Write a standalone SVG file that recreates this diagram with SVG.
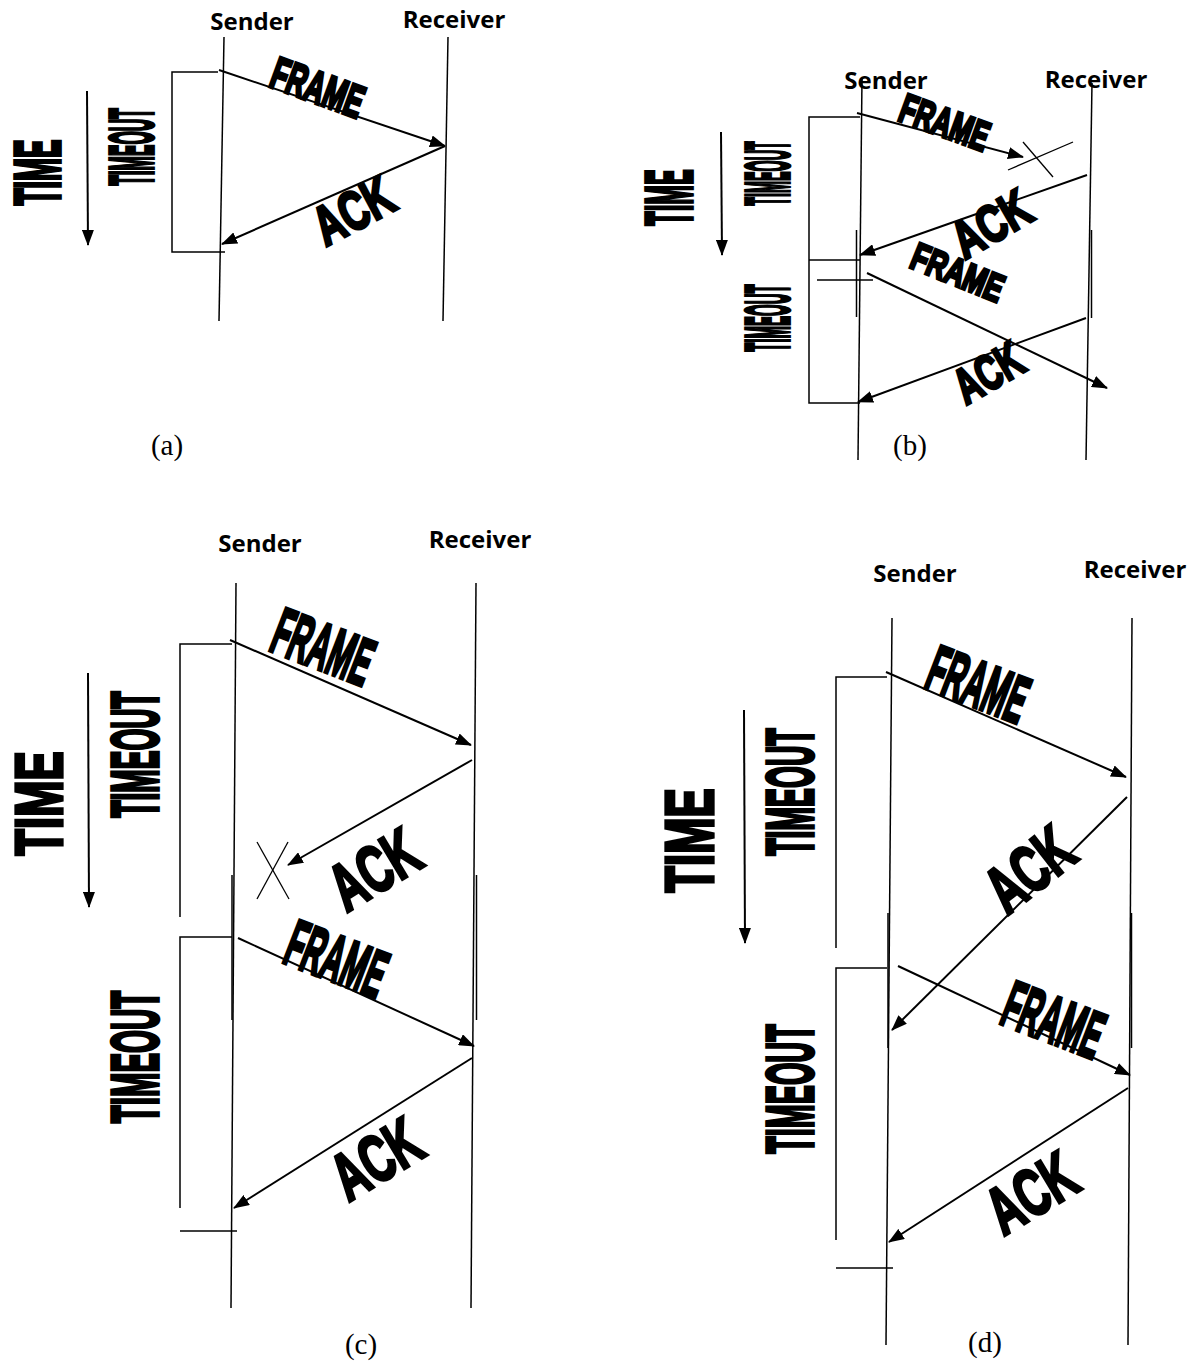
<svg xmlns="http://www.w3.org/2000/svg" width="1191" height="1365" viewBox="0 0 1191 1365">
<defs>
<marker id="ah" markerWidth="16" markerHeight="12" refX="15" refY="6" orient="auto" markerUnits="userSpaceOnUse"><path d="M0,0 L16,6 L0,12 z" fill="#000"/></marker>
</defs>
<style>
.ll{stroke:#000;stroke-width:1.5;fill:none}
.br{stroke:#000;stroke-width:1.5;fill:none}
.ar{stroke:#000;stroke-width:2;fill:none;marker-end:url(#ah)}
.th{stroke:#000;stroke-width:1.3;fill:none}
.hd{font-family:"Open Sans","Liberation Sans",sans-serif;font-weight:bold;font-size:24px;fill:#000;text-anchor:middle}
.cap{font-family:"Liberation Serif","Times New Roman",serif;font-size:29px;fill:#000;text-anchor:middle}
.big{font-family:"Liberation Sans",Arial,sans-serif;font-weight:bold;fill:#000;stroke:#000;stroke-width:2.8;stroke-linejoin:miter;vector-effect:non-scaling-stroke;text-anchor:middle}
</style>
<rect width="1191" height="1365" fill="#fff"/>

<!-- Panel (a) -->
<g id="panel-a">
<g id="a-sender"><text class="hd" x="252" y="30">Sender</text><line class="ll" x1="224" y1="37" x2="219" y2="321"/></g>
<g id="a-receiver"><text class="hd" x="454" y="28">Receiver</text><line class="ll" x1="448" y1="37" x2="443" y2="321"/></g>
<g id="a-timeout"><polyline class="br" points="218,72 172,72 172,252 225,252"/>
<text class="big" transform="translate(130.5 147) rotate(-90) scale(0.277 1)" y="22.25" font-size="62.2">TIMEOUT</text></g>
<g id="a-time"><text class="big" transform="translate(37 172.5) rotate(-90) scale(0.432 1)" y="23" font-size="64.2">TIME</text></g>
<text class="big" transform="translate(318 87) rotate(20) scale(0.592 1)" y="16.25" font-size="45.4">FRAME</text>
<text class="big" transform="translate(353 210) rotate(-28) scale(0.69 1)" y="19.75" font-size="55.2">ACK</text>
<text class="cap" x="167" y="455">(a)</text>
</g>

<!-- Panel (b) -->
<g id="panel-b">
<g id="b-sender"><text class="hd" x="886" y="89">Sender</text><line class="ll" x1="862" y1="78" x2="858" y2="460"/><line class="ll" x1="856.5" y1="230" x2="856.5" y2="317"/></g>
<g id="b-receiver"><text class="hd" x="1096" y="88">Receiver</text><line class="ll" x1="1092" y1="83" x2="1086" y2="460"/><line class="ll" x1="1091.5" y1="230" x2="1091.5" y2="318"/></g>
<g id="b-timeout"><polyline class="br" points="860,117 809,117 809,403 860,403"/><line class="br" x1="809" y1="260" x2="860" y2="260"/><line class="br" x1="817" y1="280" x2="873" y2="280"/>
<text class="big" transform="translate(766 173.5) rotate(-90) scale(0.226 1)" y="22.75" font-size="63.5">TIMEOUT</text>
<text class="big" transform="translate(766 318) rotate(-90) scale(0.236 1)" y="22.75" font-size="63.5">TIMEOUT</text></g>
<g id="b-time"><text class="big" transform="translate(668 197.5) rotate(-90) scale(0.357 1)" y="23.75" font-size="66.3">TIME</text></g>
<g id="b-lost"><line class="th" x1="1008" y1="170" x2="1073" y2="142"/><line class="th" x1="1023" y1="142" x2="1053" y2="177"/></g>
<text class="big" transform="translate(945 122) rotate(20) scale(0.631 1)" y="14.75" font-size="41.2">FRAME</text>
<text class="big" transform="translate(991 223) rotate(-30) scale(0.727 1)" y="18.75" font-size="52.4">ACK</text>
<text class="big" transform="translate(958 272) rotate(22) scale(0.707 1)" y="13.75" font-size="38.4">FRAME</text>
<text class="big" transform="translate(988 372) rotate(-30) scale(0.666 1)" y="17.75" font-size="49.6">ACK</text>
<text class="cap" x="910" y="455">(b)</text>
</g>

<!-- Panel (c) -->
<g id="panel-c">
<g id="c-sender"><text class="hd" x="260" y="552">Sender</text><line class="ll" x1="236" y1="583" x2="231" y2="1308"/><line class="ll" x1="232" y1="875" x2="232" y2="1020"/></g>
<g id="c-receiver"><text class="hd" x="480" y="548">Receiver</text><line class="ll" x1="476" y1="583" x2="471" y2="1308"/><line class="ll" x1="476.5" y1="875" x2="476.5" y2="1020"/></g>
<g id="c-timeout"><polyline class="br" points="232,644 180,644 180,917"/><polyline class="br" points="232,937 180,937 180,1208"/><line class="br" x1="180" y1="1231" x2="237" y2="1231"/>
<text class="big" transform="translate(134.5 754.5) rotate(-90) scale(0.424 1)" y="23.75" font-size="66.3">TIMEOUT</text>
<text class="big" transform="translate(134.5 1057) rotate(-90) scale(0.444 1)" y="23.75" font-size="66.3">TIMEOUT</text></g>
<g id="c-time"><text class="big" transform="translate(38 803.5) rotate(-90) scale(0.66 1)" y="23.75" font-size="66.3">TIME</text></g>
<g id="c-lost"><line class="th" x1="257" y1="842" x2="289" y2="899"/><line class="th" x1="288" y1="842" x2="257" y2="899"/></g>
<text class="big" transform="translate(323.5 646) rotate(21) scale(0.435 1)" y="23.75" font-size="66.3">FRAME</text>
<text class="big" transform="translate(374 868.5) rotate(-31) scale(0.644 1)" y="23.75" font-size="66.3">ACK</text>
<text class="big" transform="translate(337 958) rotate(21) scale(0.435 1)" y="23.75" font-size="66.3">FRAME</text>
<text class="big" transform="translate(376 1158) rotate(-31) scale(0.644 1)" y="23.75" font-size="66.3">ACK</text>
<text class="cap" x="361" y="1354">(c)</text>
</g>

<!-- Panel (d) -->
<g id="panel-d">
<g id="d-sender"><text class="hd" x="915" y="582">Sender</text><line class="ll" x1="892" y1="618" x2="886" y2="1345"/><line class="ll" x1="888" y1="913" x2="888" y2="1048"/></g>
<g id="d-receiver"><text class="hd" x="1135" y="578">Receiver</text><line class="ll" x1="1132" y1="618" x2="1128" y2="1345"/><line class="ll" x1="1131.5" y1="913" x2="1131.5" y2="1048"/></g>
<g id="d-timeout"><polyline class="br" points="887,677 836,677 836,948"/><polyline class="br" points="887,968 836,968 836,1240"/><line class="br" x1="836" y1="1268" x2="893" y2="1268"/>
<text class="big" transform="translate(789.5 792) rotate(-90) scale(0.427 1)" y="23.75" font-size="66.3">TIMEOUT</text>
<text class="big" transform="translate(789.5 1089) rotate(-90) scale(0.434 1)" y="23.75" font-size="66.3">TIMEOUT</text></g>
<g id="d-time"><text class="big" transform="translate(688 840.5) rotate(-90) scale(0.633 1)" y="24.75" font-size="69.1">TIME</text></g>
<text class="big" transform="translate(978.5 683.5) rotate(21) scale(0.435 1)" y="23.75" font-size="66.3">FRAME</text>
<text class="big" transform="translate(1029 868.5) rotate(-38) scale(0.644 1)" y="23.75" font-size="66.3">ACK</text>
<text class="big" transform="translate(1054 1019) rotate(21) scale(0.435 1)" y="23.75" font-size="66.3">FRAME</text>
<text class="big" transform="translate(1031 1192) rotate(-31) scale(0.644 1)" y="23.75" font-size="66.3">ACK</text>
<text class="cap" x="985" y="1352">(d)</text>
</g>

<!-- Connectors -->
<g id="connectors">
<line class="ar" x1="219" y1="70" x2="445" y2="146"/>
<line class="ar" x1="445" y1="146" x2="222" y2="244"/>
<line class="ar" x1="87" y1="91" x2="88" y2="245"/>

<line class="ar" x1="857" y1="113" x2="1023" y2="157"/>
<line class="ar" x1="1087" y1="175" x2="860" y2="255"/>
<line class="ar" x1="867" y1="273" x2="1107" y2="388"/>
<line class="ar" x1="1086" y1="318" x2="858" y2="402"/>
<line class="ar" x1="721" y1="132" x2="722" y2="255"/>

<line class="ar" x1="230" y1="640" x2="471" y2="745"/>
<line class="ar" x1="472" y1="760" x2="288" y2="865"/>
<line class="ar" x1="238" y1="938" x2="474" y2="1046"/>
<line class="ar" x1="472" y1="1058" x2="234" y2="1208"/>
<line class="ar" x1="88" y1="673" x2="89" y2="907"/>

<line class="ar" x1="886" y1="672" x2="1126" y2="777"/>
<line class="ar" x1="1127" y1="797" x2="892" y2="1030"/>
<line class="ar" x1="898" y1="966" x2="1130" y2="1075"/>
<line class="ar" x1="1128" y1="1088" x2="889" y2="1242"/>
<line class="ar" x1="744" y1="710" x2="745" y2="943"/>
</g>
</svg>
